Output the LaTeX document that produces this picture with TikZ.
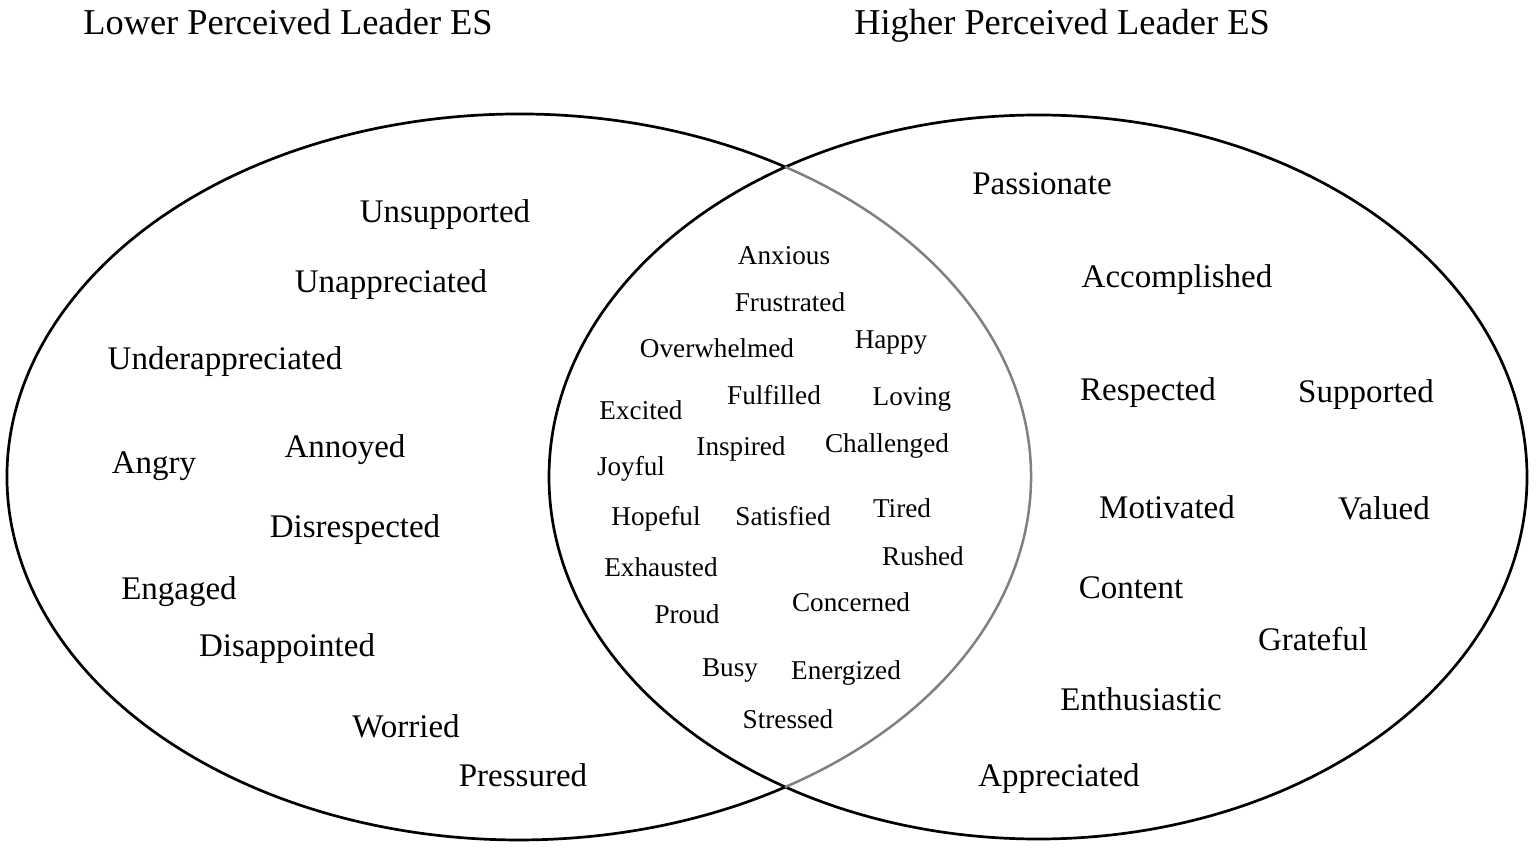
\documentclass[tikz,border=0pt]{standalone}
\usepackage{fontspec}
\setmainfont{Liberation Serif}
\begin{document}
\begin{tikzpicture}[x=0.5pt,y=-0.5pt,
  ttl/.style={anchor=base,yshift=-6.5pt,inner sep=0pt,font=\fontsize{18.2}{22}\selectfont},
  outer/.style={anchor=base,yshift=-6pt,inner sep=0pt,font=\fontsize{16.5}{20}\selectfont},
  inner/.style={anchor=base,yshift=-5pt,inner sep=0pt,font=\fontsize{13.6}{16}\selectfont},
  ring/.style={line width=1.35pt,black},
  overlap/.style={line width=1.25pt,black!50}]
\useasboundingbox (0,0) rectangle (1536,849);
% ellipses
\draw[ring] (1038,477) ellipse[x radius=244.5pt, y radius=181pt];
\draw[ring] (519,477) ++(58.7:256pt and 181.5pt) arc[start angle=58.7,end angle=301.3,x radius=256pt,y radius=181.5pt];
\draw[overlap] (519,477) ++(-58.7:256pt and 181.5pt) arc[start angle=-58.7,end angle=58.7,x radius=256pt,y radius=181.5pt];
% titles
\node[ttl] (tl) at (288,22) {Lower Perceived Leader ES};
\node[ttl] (tr) at (1062,22) {Higher Perceived Leader ES};
% left
\node[outer] (l1) at (445,211) {Unsupported};
\node[outer] (l2) at (391,281) {Unappreciated};
\node[outer] (l3) at (225,358) {Underappreciated};
\node[outer] (l4) at (154,462) {Angry};
\node[outer] (l5) at (345,446) {Annoyed};
\node[outer] (l6) at (355,526) {Disrespected};
\node[outer] (l7) at (179,587) {Engaged};
\node[outer] (l8) at (287,644) {Disappointed};
\node[outer] (l9) at (406,725) {Worried};
\node[outer] (l10) at (523,774) {Pressured};
% right
\node[outer] (r1) at (1042,183) {Passionate};
\node[outer] (r2) at (1177,276) {Accomplished};
\node[outer] (r3) at (1148,389) {Respected};
\node[outer] (r4) at (1366,391) {Supported};
\node[outer] (r5) at (1167,507) {Motivated};
\node[outer] (r6) at (1384,508) {Valued};
\node[outer] (r7) at (1131,586) {Content};
\node[outer] (r8) at (1313,638) {Grateful};
\node[outer] (r9) at (1141,698) {Enthusiastic};
\node[outer] (r10) at (1059,774) {Appreciated};
% middle
\node[inner] (m1) at (784,255) {Anxious};
\node[inner] (m2) at (790,302) {Frustrated};
\node[inner] (m3) at (717,348) {Overwhelmed};
\node[inner] (m4) at (891,339) {Happy};
\node[inner] (m5) at (641,410) {Excited};
\node[inner] (m6) at (774,395) {Fulfilled};
\node[inner] (m7) at (912,396) {Loving};
\node[inner] (m8) at (741,446) {Inspired};
\node[inner] (m9) at (887,443) {Challenged};
\node[inner] (m10) at (631,466) {Joyful};
\node[inner] (m11) at (656,516) {Hopeful};
\node[inner] (m12) at (783,516) {Satisfied};
\node[inner] (m13) at (902,508) {Tired};
\node[inner] (m14) at (923,556) {Rushed};
\node[inner] (m15) at (661,566) {Exhausted};
\node[inner] (m16) at (851,601) {Concerned};
\node[inner] (m17) at (687,613) {Proud};
\node[inner] (m18) at (730,666) {Busy};
\node[inner] (m19) at (846,669) {Energized};
\node[inner] (m20) at (788,718) {Stressed};
\end{tikzpicture}
\end{document}
